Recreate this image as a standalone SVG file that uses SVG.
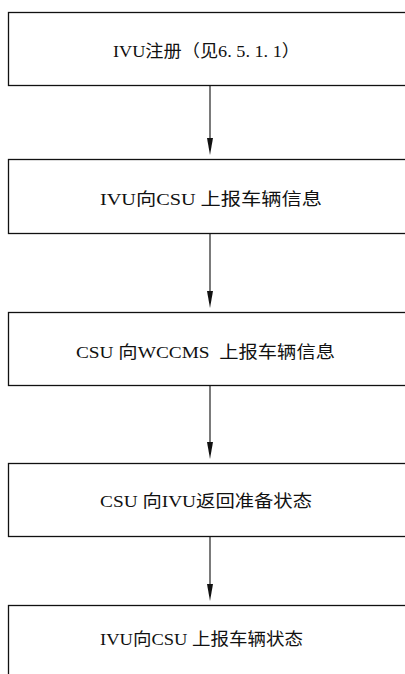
<svg xmlns="http://www.w3.org/2000/svg" width="405" height="674" viewBox="0 0 405 674">
<defs>
<style>
.box{fill:#fff;stroke:#111;stroke-width:1.3}
.lbl{font-family:"Liberation Serif","Noto Sans CJK SC",serif;font-size:17px;fill:#111;text-anchor:start}
.conn{stroke:#222;stroke-width:1.2;fill:none}
.head{fill:#111}
</style>
</defs>
<rect width="405" height="674" fill="#fff"/>
<g id="connectors">
<line class="conn" x1="210" y1="86" x2="210" y2="150"/>
<path class="head" d="M207,138 L213,138 L210,155 Z"/>
<line class="conn" x1="210" y1="234" x2="210" y2="303"/>
<path class="head" d="M207,291 L213,291 L210,308 Z"/>
<line class="conn" x1="210" y1="386" x2="210" y2="454"/>
<path class="head" d="M207,442 L213,442 L210,459 Z"/>
<line class="conn" x1="210" y1="537" x2="210" y2="596"/>
<path class="head" d="M207,584 L213,584 L210,601 Z"/>
</g>
<g id="n1">
<rect class="box" x="8.5" y="12.5" width="410" height="73"/>
<text class="lbl" x="113" y="57" textLength="187" lengthAdjust="spacingAndGlyphs">IVU注册（见6. 5. 1. 1）</text>
</g>
<g id="n2">
<rect class="box" x="8.5" y="159.5" width="410" height="74"/>
<text class="lbl" x="100" y="205" textLength="222" lengthAdjust="spacingAndGlyphs">IVU向CSU 上报车辆信息</text>
</g>
<g id="n3">
<rect class="box" x="8.5" y="312.5" width="410" height="73"/>
<text class="lbl" x="76" y="358" textLength="259" lengthAdjust="spacingAndGlyphs" xml:space="preserve">CSU 向WCCMS  上报车辆信息</text>
</g>
<g id="n4">
<rect class="box" x="8.5" y="463.5" width="410" height="73"/>
<text class="lbl" x="100" y="507" textLength="212" lengthAdjust="spacingAndGlyphs">CSU 向IVU返回准备状态</text>
</g>
<g id="n5">
<rect class="box" x="8.5" y="605.5" width="410" height="100"/>
<text class="lbl" x="100" y="645" textLength="203" lengthAdjust="spacingAndGlyphs">IVU向CSU 上报车辆状态</text>
</g>
</svg>
